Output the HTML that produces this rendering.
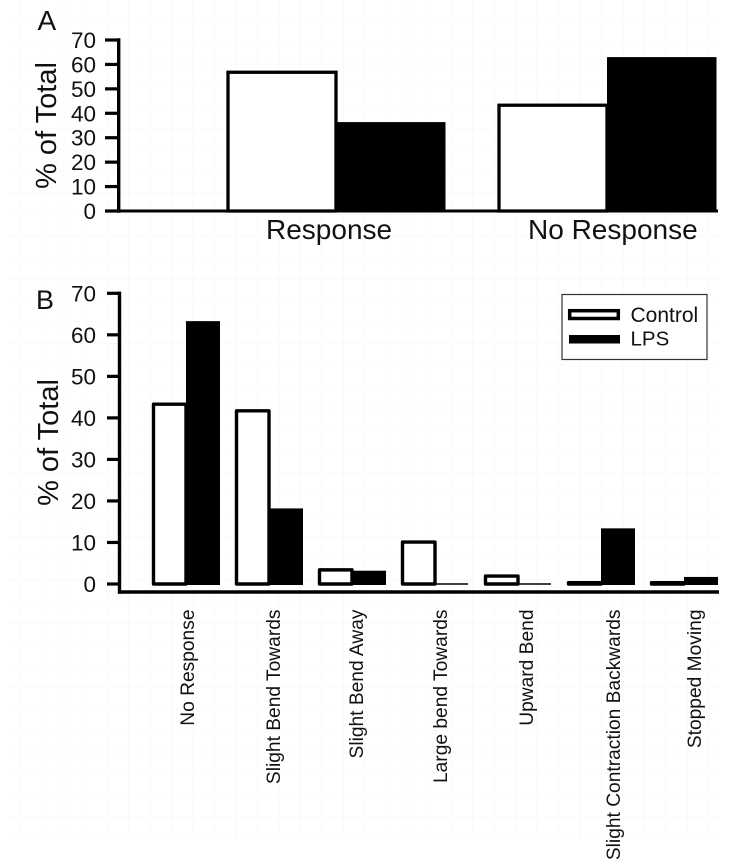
<!DOCTYPE html>
<html>
<head>
<meta charset="utf-8">
<title>Response chart</title>
<style>
html,body{margin:0;padding:0;background:#fff;}
svg{display:block;}
text{font-family:"Liberation Sans",sans-serif;fill:#111;}
</style>
</head>
<body>
<svg id="chart" width="748" height="866" viewBox="0 0 748 866" xmlns="http://www.w3.org/2000/svg">
  <defs>
    <pattern id="faint-grid" width="21.5" height="21.5" patternUnits="userSpaceOnUse">
      <path d="M21 0V21.5M0 21H21.5" fill="none" stroke="#fafafa" stroke-width="1"/>
    </pattern>
  </defs>
  <rect width="748" height="866" fill="#fff"/>
  <rect x="8" y="0" width="712" height="838" fill="url(#faint-grid)"/>
  <g id="panel-a"></g>
  <g id="panel-b"></g>
  <g>
    <rect x="562" y="294.5" width="145" height="65" fill="#fff" stroke="#333" stroke-width="1.2"/>
    <rect x="569.7" y="310.7" width="48.6" height="7.8" fill="#fff" stroke="#000" stroke-width="3.5"/>
    <text x="630.5" y="322" font-size="21">Control</text>
    <rect x="569" y="335" width="51" height="8.5" fill="#000"/>
    <text x="630.5" y="345.5" font-size="20.5">LPS</text>
  </g>
</svg>
<script>
var tickLabels = [0, 10, 20, 30, 40, 50, 60, 70];
var categoriesA = ["Response", "No Response"];
var controlA = [56.8, 43.3];
var lpsA = [36.4, 63];
var categoriesB = ["No Response", "Slight Bend Towards", "Slight Bend Away", "Large bend Towards", "Upward Bend", "Slight Contraction Backwards", "Stopped Moving"];
var controlB = [43.3, 41.7, 3.4, 10.1, 1.9, 0.3, 0.3];
var lpsB = [63.3, 18.2, 3.2, 0, 0, 13.4, 1.7];

var NS = "http://www.w3.org/2000/svg";
function make(parent, tag, attrs, content) {
  var el = document.createElementNS(NS, tag);
  for (var k in attrs) el.setAttribute(k, attrs[k]);
  if (content !== undefined) el.textContent = content;
  parent.appendChild(el);
  return el;
}
function yAxisFn(y0, y70) {
  return function (v) { return y0 + (y70 - y0) * v / 70; };
}

function drawYAxis(g, y, axisX, tickX, bottom, axisName) {
  var line = make(g, "line", {x1: axisX, x2: axisX, y1: y(70) - 1.7, y2: bottom + 1.7, stroke: "#000", "stroke-width": 3.4});
  
  
  tickLabels.forEach(function (t) {
    var tick = make(g, "line", {x1: tickX, x2: axisX, y1: y(t), y2: y(t), stroke: "#000", "stroke-width": 3.2});
    
    
    var label = make(g, "text", {x: 96, y: y(t) + 8, "font-size": 22.5, "text-anchor": "end"}, t);
    
    
  });
}

/* Panel A */
var gA = document.getElementById("panel-a");
var yA = yAxisFn(211, 40);
function xA(i) { return 226.5 + 271 * i; }
var widthA = 109.5;
categoriesA.forEach(function (c, i) {
  var lps = make(gA, "rect", {x: xA(i) + widthA, y: yA(lpsA[i]), width: widthA, height: yA(0) - yA(lpsA[i]) + 1, fill: "#000"});
  
  
  var ctrl = make(gA, "rect", {x: xA(i) + 1.5, y: yA(controlA[i]), width: widthA - 1.5, height: yA(0) - yA(controlA[i]), fill: "#fff", stroke: "#000", "stroke-width": 3.3});
  
  
  var label = make(gA, "text", {x: 266 + 262 * i, y: 239, "font-size": 28}, c);
  
  
});
var baseA = make(gA, "line", {x1: 118, x2: 718, y1: yA(0), y2: yA(0), stroke: "#000", "stroke-width": 3});


drawYAxis(gA, yA, 118.7, 105, 211, "panel-a");
var titleA = make(gA, "text", {transform: "translate(56,125.5) rotate(-90)", "font-size": 29, "text-anchor": "middle"}, "% of Total");


var letterA = make(gA, "text", {x: 37.5, y: 30, "font-size": 28}, "A");



/* Panel B */
var gB = document.getElementById("panel-b");
var yB = yAxisFn(584, 293.3);
function xB(i) { return 152 + 83 * i; }
var widthB = 34;
var labelBaselineB = [194, 280, 363, 447, 533, 620, 701];
categoriesB.forEach(function (c, i) {
  var x = xB(i);
  var lps;
  if (lpsB[i] > 0) {
    lps = make(gB, "rect", {x: x + widthB, y: yB(lpsB[i]), width: widthB, height: yB(0) - yB(lpsB[i]) + 1, fill: "#000"});
  } else {
    lps = make(gB, "line", {x1: x + widthB, x2: x + 2 * widthB - 1, y1: yB(0), y2: yB(0), stroke: "#000", "stroke-width": 1.4});
  }
  
  
  var ctrl = make(gB, "rect", {x: x + 1.5, y: yB(controlB[i]), width: widthB - 1.5, height: yB(0) - yB(controlB[i]), fill: "#fff", stroke: "#000", "stroke-width": 3.4, "stroke-linejoin": "round"});
  
  
  var label = make(gB, "text", {transform: "translate(" + labelBaselineB[i] + ",609.5) rotate(-90)", "font-size": 19.2, "text-anchor": "end"}, c);
  
  
});
var baseB = make(gB, "line", {x1: 118, x2: 719, y1: 592, y2: 592, stroke: "#000", "stroke-width": 3.4});


drawYAxis(gB, yB, 119.5, 107, 592, "panel-b");
var titleB = make(gB, "text", {transform: "translate(58,442.5) rotate(-90)", "font-size": 29, "text-anchor": "middle"}, "% of Total");


var letterB = make(gB, "text", {x: 36, y: 309, "font-size": 27}, "B");


</script>
</body>
</html>
